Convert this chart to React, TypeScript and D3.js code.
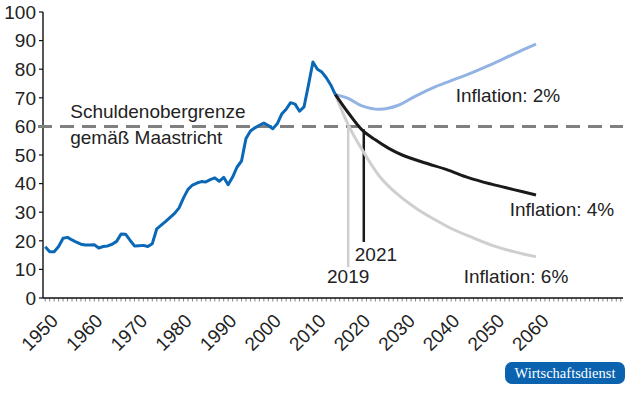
import * as d3 from "d3";

// Staatsschuldenquote Deutschland, % des BIP
const histYears = d3.range(1950, 2016);
const histValues = [
  17.9, 16.2, 16.2, 18.0, 20.9, 21.2, 20.3, 19.5, 18.8, 18.5,
  18.5, 18.6, 17.5, 18.0, 18.2, 18.8, 19.8, 22.4, 22.3, 20.2,
  18.2, 18.3, 18.4, 18.0, 19.0, 24.2, 25.5, 26.8, 28.2, 29.6,
  31.5, 35.0, 38.0, 39.5, 40.2, 40.7, 40.6, 41.4, 42.0, 40.8,
  42.2, 39.6, 42.3, 45.8, 47.9, 55.8, 58.4, 59.5, 60.4, 61.2,
  60.3, 59.2, 60.9, 64.3, 66.0, 68.3, 67.8, 65.3, 66.8, 74.5,
  82.5, 80.0, 79.0, 77.0, 74.5, 71.2,
];

// Projektionen
const years2 = [2015, 2018, 2021, 2025, 2029, 2033, 2037, 2041, 2045, 2050, 2055, 2060];
const infl2 = [71.2, 69.7, 67.2, 66.0, 67.3, 70.6, 73.6, 76.0, 78.4, 81.7, 85.3, 88.8];
const years4 = [2015, 2018, 2021, 2024, 2027, 2030, 2035, 2040, 2045, 2050, 2055, 2060];
const infl4 = [71.2, 64.6, 58.8, 55.3, 52.3, 50.0, 47.3, 44.9, 42.0, 39.8, 37.9, 36.0];
const years6 = [2015, 2018, 2021, 2025, 2029, 2033, 2037, 2041, 2045, 2050, 2055, 2060];
const infl6 = [71.2, 60.3, 51.9, 42.4, 36.2, 31.5, 27.7, 24.3, 21.6, 18.5, 16.2, 14.4];

// Markierungen: Jahr, an dem die Grenze unterschritten wird
const markerLabels = ["2019", "2021"];
const markerYears = [2017.9, 2021.4];
const markerTops = [60, 59];
const markerBottoms = [10.8, 19.6];

const yTicks = [0, 10, 20, 30, 40, 50, 60, 70, 80, 90, 100];
const xLabels = [1950, 1960, 1970, 1980, 1990, 2000, 2010, 2020, 2030, 2040, 2050, 2060];
const limit = 60;

const W = 630;
const H = 393;
const FONT = "'Liberation Sans', Arial, Helvetica, sans-serif";
const TXT = "#222";

export default function App() {
  const x = d3.scaleLinear().domain([1949.5, 2079.5]).range([43, 623]);
  const y = d3.scaleLinear().domain([0, 100]).range([298, 12]);

  const histLine = d3
    .line<number>()
    .x((_, i) => x(histYears[i]))
    .y((d) => y(d));

  const projLine = (yrs: number[]) =>
    d3
      .line<number>()
      .x((_, i) => x(yrs[i]))
      .y((d) => y(d))
      .curve(d3.curveCatmullRom.alpha(0.5));

  const minorTicks = d3.range(1950, 2080);

  return (
    <svg
      width={W}
      height={H}
      style={{ position: "absolute", left: 0, top: 0, background: "#fff" }}
      fontFamily={FONT}
    >
      {/* Y-Achse */}
      <line x1={43} x2={43} y1={y(100)} y2={y(0)} stroke="#111" strokeWidth={1.4} />
      {yTicks.map((t) => (
        <g key={t}>
          <line x1={39} x2={43} y1={y(t)} y2={y(t)} stroke="#111" strokeWidth={1.2} />
          <text x={36} y={y(t)} dy="0.36em" textAnchor="end" fontSize={19} fill={TXT}>
            {t}
          </text>
        </g>
      ))}

      {/* X-Achse mit Jahresstrichen */}
      {minorTicks.map((t) => (
        <line key={t} x1={x(t)} x2={x(t)} y1={y(0)} y2={y(0) + 3.5} stroke="#777" strokeWidth={0.9} />
      ))}
      <line x1={43} x2={623} y1={y(0)} y2={y(0)} stroke="#111" strokeWidth={1.5} />
      {xLabels.map((t) => (
        <text
          key={t}
          transform={`translate(${x(t) + 14},${y(0) + 24}) rotate(-45)`}
          textAnchor="end"
          fontSize={19}
          fill={TXT}
        >
          {t}
        </text>
      ))}

      {/* Maastricht-Grenze */}
      <line
        x1={38}
        x2={623}
        y1={y(limit)}
        y2={y(limit)}
        stroke="#808080"
        strokeWidth={3}
        strokeDasharray="14 8"
      />
      <text x={x(1955.6)} y={y(62.8)} fontSize={19} fill={TXT}>
        Schuldenobergrenze
      </text>
      <text x={x(1955.6)} y={y(54)} fontSize={19} fill={TXT}>
        gemäß Maastricht
      </text>

      {/* Senkrechte Markierungen */}
      <line
        x1={x(markerYears[0])}
        x2={x(markerYears[0])}
        y1={y(markerTops[0])}
        y2={y(markerBottoms[0])}
        stroke="#cfcfcf"
        strokeWidth={2.5}
      />
      <line
        x1={x(markerYears[1])}
        x2={x(markerYears[1])}
        y1={y(markerTops[1])}
        y2={y(markerBottoms[1])}
        stroke="#1a1a1a"
        strokeWidth={2.5}
      />
      <text x={x(markerYears[0])} y={y(markerBottoms[0]) + 16} textAnchor="middle" fontSize={19} fill={TXT}>
        {markerLabels[0]}
      </text>
      <text x={x(markerYears[1]) - 9} y={y(markerBottoms[1]) + 19} fontSize={19} fill={TXT}>
        {markerLabels[1]}
      </text>

      {/* Projektionen */}
      <path d={projLine(years6)(infl6) ?? ""} fill="none" stroke="#cfcfcf" strokeWidth={3} />
      <path d={projLine(years2)(infl2) ?? ""} fill="none" stroke="#92b3e3" strokeWidth={3} />
      <path d={projLine(years4)(infl4) ?? ""} fill="none" stroke="#1a1a1a" strokeWidth={3} />

      {/* Historische Schuldenquote */}
      <path
        d={histLine(histValues) ?? ""}
        fill="none"
        stroke="#0b68b6"
        strokeWidth={3}
        strokeLinejoin="round"
      />

      <text x={x(2042)} y={y(68.6)} fontSize={19} fill={TXT}>
        Inflation: 2%
      </text>
      <text x={x(2054.1)} y={y(28.7)} fontSize={19} fill={TXT}>
        Inflation: 4%
      </text>
      <text x={x(2043.8)} y={y(5.1)} fontSize={19} fill={TXT}>
        Inflation: 6%
      </text>

      {/* Quelle */}
      <rect x={505} y={362} width={120} height={22} rx={7} fill="#0b63b0" />
      <text
        x={565}
        y={378}
        textAnchor="middle"
        fontSize={14.5}
        fill="#fff"
        fontFamily="'Liberation Serif', 'Times New Roman', serif"
      >
        Wirtschaftsdienst
      </text>
    </svg>
  );
}
